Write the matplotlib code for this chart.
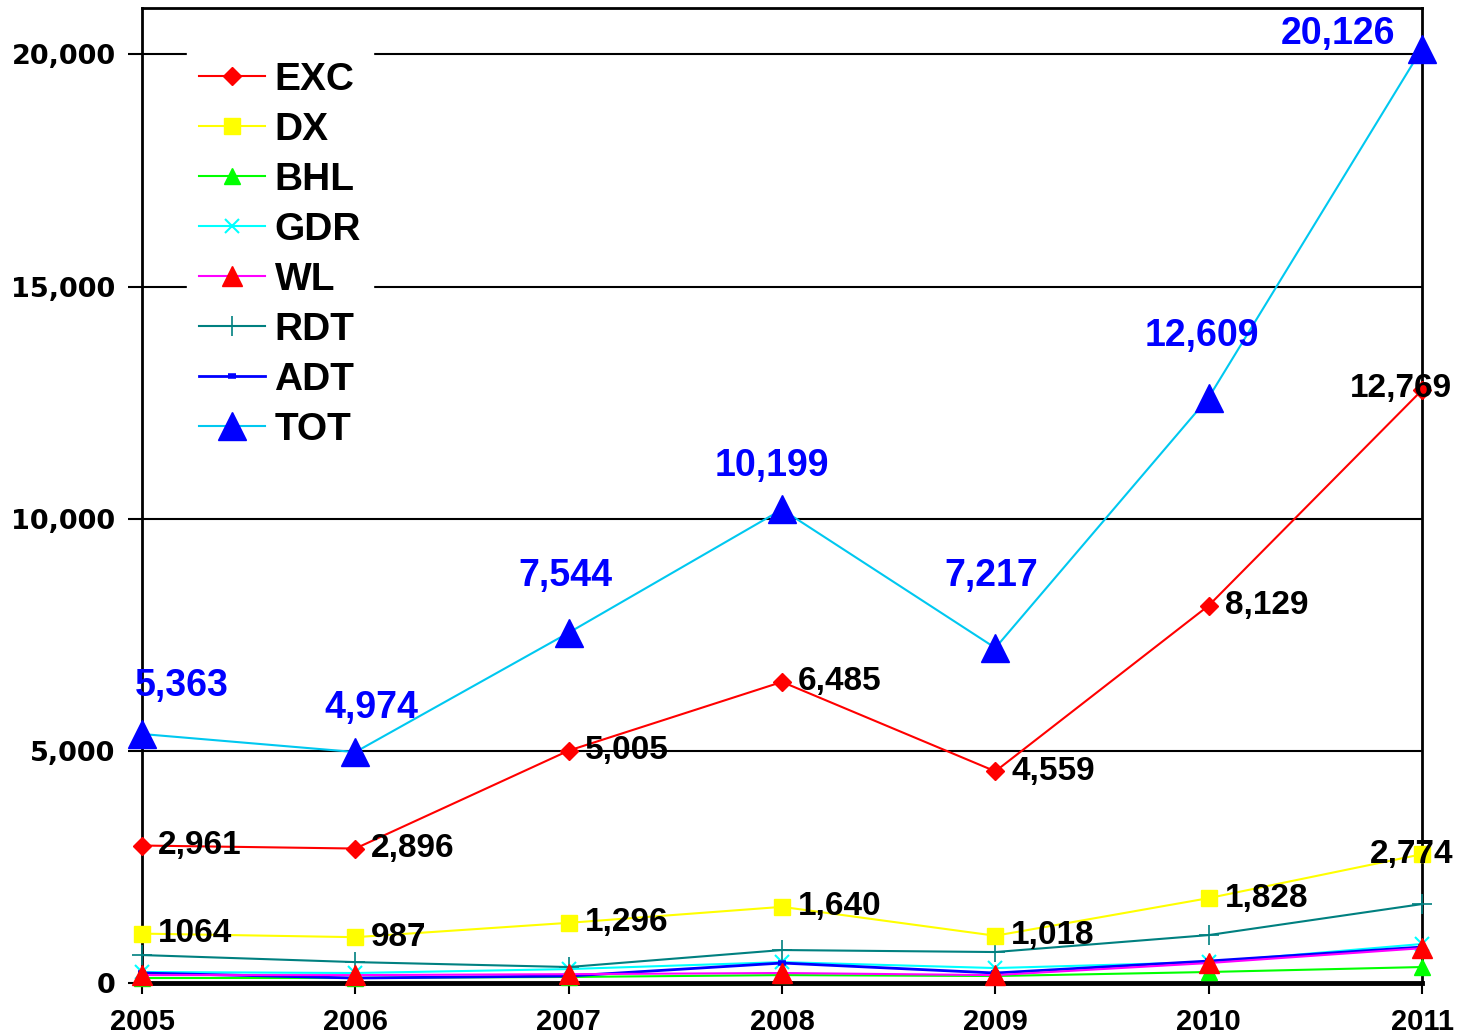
import matplotlib.pyplot as plt
from matplotlib.ticker import FuncFormatter

years = [2005, 2006, 2007, 2008, 2009, 2010, 2011]

exc = [2961, 2896, 5005, 6485, 4559, 8129, 12769]
dx = [1064, 987, 1296, 1640, 1018, 1828, 2774]
bhl = [107, 110, 130, 170, 150, 237, 344]
gdr = [237, 215, 300, 450, 322, 450, 840]
wl = [170, 170, 190, 215, 170, 430, 750]
rdt = [602, 450, 344, 710, 667, 1032, 1700]
adt = [215, 107, 150, 430, 215, 473, 774]
tot = [5363, 4974, 7544, 10199, 7217, 12609, 20126]

exc_labels = ['2,961', '2,896', '5,005', '6,485', '4,559', '8,129', '12,769']
dx_labels = ['1064', '987', '1,296', '1,640', '1,018', '1,828', '2,774']
tot_labels = ['5,363', '4,974', '7,544', '10,199', '7,217', '12,609', '20,126']

narrow = ['Liberation Sans Narrow', 'Liberation Sans', 'DejaVu Sans']
arial = ['Liberation Sans', 'DejaVu Sans']

fig = plt.figure(figsize=(14.68, 10.34), dpi=100)
ax = fig.add_axes([142/1468, 51/1034, 1280/1468, 975/1034])

ax.plot(years, exc, color='#FF0000', lw=1.5, marker='D', ms=9, label='EXC', clip_on=False, zorder=5)
ax.plot(years, dx, color='#FFFF00', lw=1.5, marker='s', ms=11, label='DX', clip_on=False, zorder=5)
ax.plot(years, bhl, color='#00FF00', lw=1.5, marker='^', ms=11, label='BHL', clip_on=False, zorder=4)
ax.plot(years, gdr, color='#00FFFF', lw=1.5, marker='x', ms=10, mew=1.5, label='GDR', clip_on=False, zorder=4)
ax.plot(years, wl, color='#FF00FF', lw=1.5, marker='^', ms=14, mfc='#FF0000', mec='#FF0000', label='WL', clip_on=False, zorder=5)
ax.plot(years, rdt, color='#008080', lw=1.5, marker='+', ms=14, mew=1.2, label='RDT', clip_on=False, zorder=4)
ax.plot(years, adt, color='#0000FF', lw=2, marker='_', ms=6, mew=4, label='ADT', clip_on=False, zorder=4)
ax.plot(years, tot, color='#00C8F0', lw=1.5, marker='^', ms=20, mfc='#0000FF', mec='#0000FF', label='TOT', clip_on=False, zorder=6)

for x, y, t in zip(years, exc, exc_labels):
    off = (16, 0) if x != 2011 else (-72, 2)
    ax.annotate(t, (x, y), xytext=off, textcoords='offset pixels', ha='left', va='center',
                fontsize=24, fontweight='bold', family=narrow, zorder=7, annotation_clip=False)

for x, y, t in zip(years, dx, dx_labels):
    off = (16, 0) if x != 2011 else (-52, 0)
    ax.annotate(t, (x, y), xytext=off, textcoords='offset pixels', ha='left', va='center',
                fontsize=24, fontweight='bold', family=narrow, zorder=7, annotation_clip=False)

tot_dx = [40, 16, -3, -10, -4, -7, -84]
tot_dy = [48, 44, 57, 43, 72, 62, 15]
for x, y, t, ox, oy in zip(years, tot, tot_labels, tot_dx, tot_dy):
    ax.annotate(t, (x, y), xytext=(ox, oy), textcoords='offset pixels', ha='center', va='center',
                fontsize=27, fontweight='bold', family=arial, color='#0000FF', zorder=7,
                annotation_clip=False)

ax.set_xlim(2005, 2011)
ax.set_ylim(0, 21000)
ax.set_xticks(years)
ax.set_yticks([0, 5000, 10000, 15000, 20000])
ax.yaxis.set_major_formatter(FuncFormatter(lambda v, p: f'{int(v):,}'))
ax.grid(axis='y', color='black', lw=1.5)
ax.set_axisbelow(True)

for lab in ax.get_yticklabels():
    lab.set_family(['DejaVu Sans'])
    lab.set_fontweight('bold')
    lab.set_fontsize(19.5)
for lab in ax.get_xticklabels():
    lab.set_family(narrow)
    lab.set_fontweight('bold')
    lab.set_fontsize(21)

ax.tick_params(axis='y', length=10, width=1.5, pad=9)
ax.tick_params(axis='x', length=8, width=1.5, pad=10)
ax.spines['bottom'].set_linewidth(3.5)
for s in ['left', 'top', 'right']:
    ax.spines[s].set_linewidth(2)

leg = ax.legend(loc='upper left', bbox_to_anchor=(45/1280, 933/975), borderaxespad=0,
                prop={'family': arial, 'weight': 'bold', 'size': 28},
                frameon=True, fancybox=False, framealpha=1, edgecolor='white',
                handlelength=1.7, handletextpad=0.25, labelspacing=0.36, borderpad=0.3)
leg.set_zorder(10)

fig.savefig('out.png', dpi=100)
